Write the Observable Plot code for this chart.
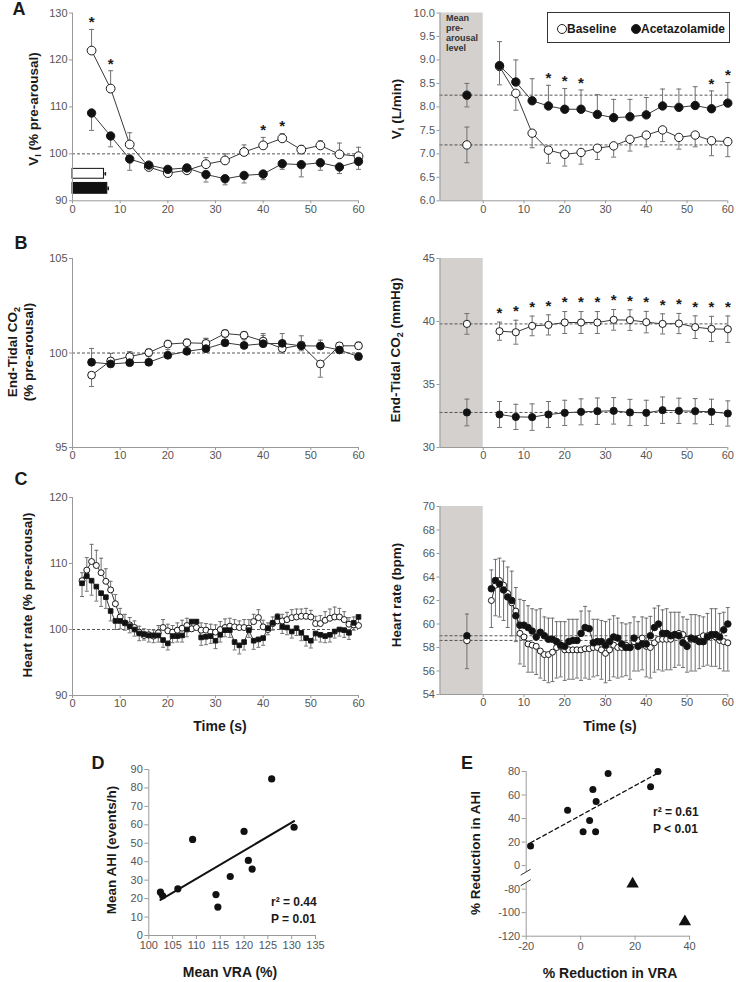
<!DOCTYPE html>
<html>
<head>
<meta charset="utf-8">
<script src="https://cdn.jsdelivr.net/npm/d3@7"></script>
<script src="https://cdn.jsdelivr.net/npm/@observablehq/plot@0.6"></script>
<style>
html,body{margin:0;padding:0;background:#fff;}
#fig{position:relative;width:736px;height:982px;overflow:hidden;background:#fff;font-family:"Liberation Sans",Arial,Helvetica,sans-serif;color:#1a1a1a;}
.lab{position:absolute;white-space:nowrap;font-weight:bold;transform:translate(-50%,-50%);line-height:1.15;}
.rot{transform:translate(-50%,-50%) rotate(-90deg);text-align:center;}
.ttl{font-size:13.5px;}
.ttlh{font-size:14px;}
.letter{font-size:18px;}
.stat{position:absolute;font-weight:bold;font-size:12px;white-space:nowrap;line-height:17px;}
sub{font-size:9px;vertical-align:-3px;line-height:0;}
.lc{display:inline-block;width:10px;height:10px;border:1px solid #222;border-radius:50%;box-sizing:border-box;vertical-align:-1px;background:#fff;}
.lc.f{background:#111;}
</style>
</head>
<body>
<div id="fig"></div>
<script>
// ---------------- DATA ----------------
const timeA = [4,8,12,16,20,24,28,32,36,40,44,48,52,56,60];
// Panel A left: VI (% pre-arousal)
const viPctBase    = [122.0,113.9,102.0,97.2,95.9,96.5,97.8,98.6,100.4,101.8,103.3,100.9,101.8,99.9,99.5];
const viPctBaseErr = [4.5,3.8,2.5,0.8,0.8,0.9,1.4,1.4,1.5,1.7,1.0,0.9,1.0,2.4,1.9];
const viPctAcet    = [108.7,103.8,98.9,97.6,96.7,97.0,95.6,94.7,95.4,95.7,97.9,97.7,98.1,97.2,98.4];
const viPctAcetErr = [-3.7,-2.3,-2.4,-0.9,-0.9,-1.0,-1.6,-1.3,-1.6,-1.2,-1.2,-2.6,-1.6,-1.4,-1.7];
const viPctStarTimes = [4,8,40,44];
const arousalGroups = ["Baseline","Acetazolamide"];
const arousalDur    = [6.6,7.3];
const arousalDurErr = [0.3,0.2];
// Panel A right: VI (L/min)
const viBase    = [8.86,8.29,7.44,7.08,6.99,7.03,7.12,7.17,7.31,7.40,7.51,7.35,7.40,7.28,7.26];
const viBaseErr = [-0.39,-0.36,-0.31,-0.28,-0.25,-0.25,-0.24,-0.24,-0.25,-0.25,-0.25,-0.25,-0.25,-0.32,-0.32];
const viAcet    = [8.88,8.53,8.13,8.02,7.95,7.95,7.84,7.77,7.79,7.83,8.02,7.99,8.03,7.96,8.08];
const viAcetErr = [0.51,0.47,0.47,0.44,0.44,0.41,0.42,0.39,0.37,0.37,0.36,0.39,0.40,0.38,0.44];
const viPreBase = 7.19, viPreBaseErr = 0.38;
const viPreAcet = 8.25, viPreAcetErr = 0.25;
const viStarTimes = [16,20,24,56,60];
// Panel B left: End-tidal CO2 (% pre-arousal)
const petPctBase    = [98.83,99.58,99.81,100.02,100.47,100.54,100.51,101.03,100.94,100.63,100.24,100.42,99.42,100.38,100.38];
const petPctBaseErr = [-0.6,-0.2,0.25,0.2,0.2,0.2,0.25,0.2,0.2,0.3,-0.25,-0.3,-0.7,0.15,0.2];
const petPctAcet    = [99.51,99.42,99.49,99.51,99.88,100.09,100.23,100.54,100.40,100.49,100.51,100.38,100.37,100.16,99.81];
const petPctAcetErr = [0.73,0.56,0.58,0.3,0.3,0.3,0.55,0.3,0.3,0.54,0.52,0.53,0.31,0.2,0.2];
// Panel B right: End-tidal CO2 (mmHg)
const petBase    = [39.23,39.15,39.65,39.73,39.92,39.92,39.92,40.13,40.11,39.95,39.81,39.84,39.55,39.41,39.39];
const petBaseErr = [0.72,0.95,0.78,0.8,0.87,0.87,0.87,0.82,0.82,0.85,0.8,0.8,0.9,1.0,1.05];
const petAcet    = [32.62,32.43,32.41,32.62,32.75,32.83,32.88,32.91,32.78,32.75,32.96,32.91,32.88,32.83,32.70];
const petAcetErr = [1.03,1.0,1.05,1.03,1.0,1.03,1.05,1.05,1.04,1.0,1.05,1.0,1.0,1.0,1.0];
const petPreBase = 39.81, petPreBaseErr = 0.82;
const petPreAcet = 32.78, petPreAcetErr = 1.06;
const petStarTimes = [4,8,12,16,20,24,28,32,36,40,44,48,52,56,60];
// Panel C: heart rate, 1-s samples
const timeC = [2,3,4,5,6,7,8,9,10,11,12,13,14,15,16,17,18,19,20,21,22,23,24,25,26,27,28,29,30,31,32,33,34,35,36,37,38,39,40,41,42,43,44,45,46,47,48,49,50,51,52,53,54,55,56,57,58,59,60];
const hrPctBase = [107.4,109.0,110.3,109.7,108.6,107.3,106.0,103.9,101.9,101.0,
  100.7,100.3,99.6,99.1,99.2,99.0,99.5,100.3,99.8,99.6,
  99.9,100.2,100.6,100.1,100.3,99.9,99.9,99.6,99.6,100.0,
  100.3,100.5,100.4,100.3,100.3,100.2,101.2,101.8,100.4,100.0,
  100.9,101.3,101.3,101.5,101.8,101.9,102.0,102.0,101.9,100.9,
  100.9,101.4,101.7,101.9,101.9,101.5,100.8,100.7,100.6];
const hrPctBaseErr = [1.2,1.9,2.6,2.3,2.2,1.9,1.3,1.4,1.3,1.3,
  1.1,1.0,0.9,1.0,0.8,0.9,1.1,1.2,1.0,1.0,
  1.1,1.2,1.1,1.0,1.2,1.1,1.0,1.2,1.1,1.2,
  1.3,1.2,1.1,1.0,1.2,1.3,1.1,1.2,1.0,1.0,
  1.0,1.1,1.0,1.1,1.2,1.2,1.1,1.2,1.0,1.1,
  1.2,1.3,1.4,1.5,1.3,1.2,1.0,1.2,1.1];
const hrPctAcet = [107.0,108.1,107.4,106.5,105.5,104.9,102.8,101.3,101.3,101.0,
  100.5,100.0,99.4,99.3,99.1,99.1,99.1,98.4,97.9,99.0,
  99.0,99.1,100.0,101.2,101.2,98.8,98.9,99.0,98.3,99.2,
  99.9,99.9,98.1,97.6,98.1,99.9,98.3,98.5,98.7,100.2,
  101.0,101.9,100.4,100.3,99.7,100.2,99.5,98.7,98.3,99.4,
  99.2,99.0,99.2,99.7,100.0,99.9,99.5,101.0,101.9];
const hrPctAcetErr = [-2.0,-2.3,-2.2,-2.2,-2.0,-1.7,-1.5,-1.3,-1.2,-1.1,
  -1.0,-1.0,-1.1,-0.9,-1.0,-1.1,-1.0,-1.1,-1.0,-1.0,
  -0.9,-1.0,-1.1,-1.0,-1.1,-1.2,-1.2,-1.1,-1.2,-1.1,
  -1.0,-1.1,-1.2,-1.3,-1.2,-1.1,-1.3,-1.2,-1.1,-1.0,
  -1.1,-1.0,-1.0,-1.1,-1.0,-1.1,-1.2,-1.2,-1.1,-1.0,
  -1.1,-1.0,-1.1,-1.0,-1.0,-1.1,-1.0,-1.1,-1.0];
const hrBase = [62.0,63.3,63.7,63.3,62.6,61.8,61.1,59.2,58.9,58.3,
  58.2,58.1,57.7,57.4,57.4,57.6,58.0,58.1,57.8,57.8,
  57.8,57.8,57.8,57.9,57.9,58.0,58.0,57.8,57.5,57.8,
  58.2,58.0,58.0,58.2,58.0,58.5,58.6,58.8,58.1,58.0,
  58.4,58.7,58.7,58.7,58.7,59.1,59.2,59.1,58.7,58.7,
  58.7,58.8,59.0,59.0,59.0,58.9,58.6,58.5,58.4];
const hrBaseErr = [-2.3,-2.6,-3.1,-3.0,-2.9,-2.8,-2.6,-2.6,-2.5,-2.4,
  -2.3,-2.4,-2.3,-2.2,-2.4,-2.5,-2.6,-2.6,-2.6,-2.5,
  -2.5,-2.4,-2.6,-2.5,-2.6,-2.5,-2.4,-2.5,-2.5,-2.6,
  -2.7,-2.6,-2.5,-2.6,-2.7,-2.5,-2.6,-2.7,-2.6,-2.6,
  -2.5,-2.6,-2.7,-2.6,-2.6,-2.8,-2.7,-2.8,-2.8,-2.7,
  -2.7,-2.6,-2.6,-2.5,-2.6,-2.5,-2.4,-2.5,-2.4];
const hrAcet = [63.0,63.7,63.4,62.9,62.3,62.0,60.7,59.9,59.9,59.7,
  59.4,58.9,59.3,59.0,58.7,58.7,58.5,58.2,58.1,58.5,
  58.6,58.6,59.2,59.7,59.6,58.4,58.5,58.5,58.2,58.5,
  58.9,58.8,58.3,58.0,58.0,58.8,58.1,58.3,58.3,59.0,
  59.7,60.0,59.2,59.2,59.0,59.1,59.0,58.4,58.1,58.8,
  58.7,58.5,58.5,58.9,59.1,59.1,58.9,59.5,60.0];
const hrAcetErr = [1.6,1.8,2.2,2.45,2.55,2.5,2.4,2.2,2.1,1.85,
  1.9,2.3,2.0,1.6,1.8,1.8,1.7,2.0,2.1,1.9,
  1.8,1.8,1.9,1.8,1.5,2.0,1.9,1.8,2.0,1.9,
  1.8,1.7,1.8,2.0,2.1,1.8,2.1,2.3,2.2,1.65,
  1.65,1.55,2.0,2.1,2.0,1.9,2.0,2.2,2.3,2.0,
  2.1,2.2,2.1,2.0,2.2,2.2,2.0,1.5,1.4];
const hrPreBase = 58.6, hrPreBaseErr = -2.4;
const hrPreAcet = 59.0, hrPreAcetErr = 1.85;
const preTime = -4;
// Panel D
const vraMean = [102.45,102.9,106.1,109.2,114.1,114.5,117.1,120.0,120.9,121.7,125.8,130.5];
const ahiMean = [23.5,21.5,25.3,52.1,22.2,15.4,32.0,56.4,40.7,36.0,84.9,58.7];
// Panel E
const vraRed = [-18.4,-4.8,0.9,3.3,4.5,5.7,5.5,10.1,25.7,28.4];
const ahiRed = [16.7,47.1,28.7,38.3,64.7,54.5,28.7,78.3,67.0,80.0];
const vraRedOut = [19.1,38.3];
const ahiRedOut = [-75.6,-107.7];

// ---------------- HELPERS ----------------
const fig = document.getElementById("fig");
const AX = "#9a9a9a", TXT = "#555", ERR = "#707070", LINE = "#3a3a3a";
const FONT = "'Liberation Sans', Arial, Helvetica, sans-serif";
const capH = {draw(ctx, size){ const w = Math.sqrt(size/Math.PI); ctx.moveTo(-w,0); ctx.lineTo(w,0); }};
const capV = {draw(ctx, size){ const w = Math.sqrt(size/Math.PI); ctx.moveTo(0,-w); ctx.lineTo(0,w); }};

function addPlot(left, top, opts) {
  const svg = Plot.plot({...opts, style: {background:"transparent", overflow:"visible", fontFamily: FONT, fontSize:"11px"}});
  svg.style.position = "absolute"; svg.style.left = left+"px"; svg.style.top = top+"px";
  fig.appendChild(svg);
}
function label(html, cx, cy, cls) {
  const d = document.createElement("div");
  d.className = "lab " + cls;
  d.style.left = cx+"px"; d.style.top = cy+"px";
  d.innerHTML = html;
  fig.appendChild(d);
}
function stat(html, left, top) {
  const d = document.createElement("div");
  d.className = "stat"; d.style.left = left+"px"; d.style.top = top+"px";
  d.innerHTML = html; fig.appendChild(d);
}
function frame(xmin, ymin, xTicks, yTicks, yFmt, tick=3, pad=2, xpad=1) {
  return [
    Plot.axisX({ticks: xTicks, tickSize: tick, tickPadding: xpad, stroke: AX, fill: TXT, fontSize: 11, label: null, tickFormat: d => String(d)}),
    Plot.axisY({ticks: yTicks, tickSize: tick, tickPadding: pad, stroke: AX, fill: TXT, fontSize: 11, label: null, tickFormat: yFmt || (d => String(d))}),
    Plot.ruleY([ymin], {stroke: AX}),
    Plot.ruleX([xmin], {stroke: AX})
  ];
}
function rows(xs, ys, es) { return xs.map((x,i) => ({x, y: ys[i], e: es ? es[i] : 0})); }
function errs(data, both=false, r=2.5) {
  const out = [
    Plot.ruleX(data, {x:"x", y1: d => both ? d.y - d.e : d.y, y2: d => d.y + d.e, stroke: ERR, strokeWidth: 1}),
    Plot.dot(data, {x:"x", y: d => d.y + d.e, symbol: capH, r, stroke: ERR, fill: "none", strokeWidth: 1})
  ];
  if (both) out.push(Plot.dot(data, {x:"x", y: d => d.y - d.e, symbol: capH, r, stroke: ERR, fill:"none", strokeWidth: 1}));
  return out;
}
function line(data) { return Plot.line(data, {x:"x", y:"y", stroke: LINE, strokeWidth: 1}); }
function dots(data, filled, r=4.3, symbol="circle") {
  return Plot.dot(data, {x:"x", y:"y", r, symbol, fill: filled ? "#111" : "#fff", stroke: "#1a1a1a", strokeWidth: 1});
}
function stars(times, data, dy) {
  const sel = data.filter(d => times.includes(d.x));
  return Plot.text(sel, {x:"x", y: d => d.y + Math.max(d.e, 0), text: () => "*", dy, fontSize: 15, fontWeight: "bold", fill: "#1a1a1a"});
}
const dashed = v => Plot.ruleY([v], {stroke: "#444", strokeDasharray: "3,2", strokeWidth: 0.9});
const XMIN = -10.6;
const grayBand = Plot.rect([0], {x1: () => XMIN, x2: () => 0, fill: "#d3d0ce"});
const ticks60 = [0,10,20,30,40,50,60];

// ---------------- PANEL A LEFT ----------------
{
  const b = rows(timeA, viPctBase, viPctBaseErr), a = rows(timeA, viPctAcet, viPctAcetErr);
  const bars = arousalGroups.map((g,i) => ({g, dur: arousalDur[i], e: arousalDurErr[i]}));
  const barY = {Baseline: [94.7, 96.8], Acetazolamide: [91.5, 93.8]};
  addPlot(0, 0, {
    width: 370, height: 220, marginLeft: 72, marginRight: 12, marginTop: 12.5, marginBottom: 19.7,
    x: {domain: [0,60]}, y: {domain: [90,130]},
    marks: [
      dashed(100),
      Plot.ruleY(bars, {x1: d => d.dur, x2: d => d.dur + d.e, y: d => (barY[d.g][0]+barY[d.g][1])/2, stroke: "#222"}),
      Plot.dot(bars, {x: d => d.dur + d.e, y: d => (barY[d.g][0]+barY[d.g][1])/2, symbol: capV, r: 1.8, stroke: "#222", fill: "none"}),
      Plot.rect(bars, {x1: () => 0, x2: "dur", y1: d => barY[d.g][0], y2: d => barY[d.g][1], fill: d => d.g === "Baseline" ? "#fff" : "#111", stroke: "#111", strokeWidth: 1}),
      ...errs(b), ...errs(a),
      line(b), line(a), dots(b, false, 4.4), dots(a, true, 4.2),
      stars(viPctStarTimes, b, -7),
      ...frame(0, 90, ticks60, [90,100,110,120,130])
    ]
  });
}
// ---------------- PANEL A RIGHT ----------------
{
  const b = rows(timeA, viBase, viBaseErr), a = rows(timeA, viAcet, viAcetErr);
  const pre = [{x: preTime, y: viPreBase, e: viPreBaseErr, f: false}, {x: preTime, y: viPreAcet, e: viPreAcetErr, f: true}];
  addPlot(370, 0, {
    width: 366, height: 220, marginLeft: 69.5, marginRight: 8.7, marginTop: 12.5, marginBottom: 19.7,
    x: {domain: [XMIN,60]}, y: {domain: [6,10]},
    marks: [
      grayBand,
      dashed(viPreBase), dashed(viPreAcet),
      ...errs(pre, true),
      ...errs(b), ...errs(a),
      line(b), line(a), dots(b, false, 4.2), dots(a, true, 4.2),
      dots(pre.filter(d => !d.f), false, 4.2), dots(pre.filter(d => d.f), true, 4.2),
      stars(viStarTimes, a, -7),
      ...frame(XMIN, 6, ticks60, [6,6.5,7,7.5,8,8.5,9,9.5,10], d3.format(".1f"))
    ]
  });
}
// ---------------- PANEL B LEFT ----------------
{
  const b = rows(timeA, petPctBase, petPctBaseErr), a = rows(timeA, petPctAcet, petPctAcetErr);
  addPlot(0, 240, {
    width: 370, height: 225, marginLeft: 72, marginRight: 12, marginTop: 18, marginBottom: 18,
    x: {domain: [0,60]}, y: {domain: [95,105]},
    marks: [
      dashed(100),
      ...errs(b), ...errs(a),
      line(b), line(a), dots(b, false, 3.9), dots(a, true, 3.9),
      ...frame(0, 95, ticks60, [95,100,105])
    ]
  });
}
// ---------------- PANEL B RIGHT ----------------
{
  const b = rows(timeA, petBase, petBaseErr), a = rows(timeA, petAcet, petAcetErr);
  const pre = [{x: preTime, y: petPreBase, e: petPreBaseErr}, {x: preTime, y: petPreAcet, e: petPreAcetErr}];
  addPlot(370, 240, {
    width: 366, height: 225, marginLeft: 69.5, marginRight: 8.7, marginTop: 18, marginBottom: 18,
    x: {domain: [XMIN,60]}, y: {domain: [30,45]},
    marks: [
      grayBand,
      dashed(petPreBase), dashed(petPreAcet),
      ...errs(pre, true), ...errs(b, true), ...errs(a, true),
      line(b), line(a), dots(b, false, 3.6), dots(a, true, 3.6),
      dots([pre[0]], false, 3.6), dots([pre[1]], true, 3.6),
      stars(petStarTimes, b, -9),
      ...frame(XMIN, 30, ticks60, [30,35,40,45])
    ]
  });
}
// ---------------- PANEL C LEFT ----------------
{
  const b = rows(timeC, hrPctBase, hrPctBaseErr), a = rows(timeC, hrPctAcet, hrPctAcetErr);
  addPlot(0, 480, {
    width: 370, height: 255, marginLeft: 72, marginRight: 12, marginTop: 17, marginBottom: 40,
    x: {domain: [0,60]}, y: {domain: [90,120]},
    marks: [
      dashed(100),
      ...errs(b, false, 2), ...errs(a, false, 2),
      line(b), line(a), dots(b, false, 3), dots(a, true, 2.6, "square"),
      ...frame(0, 90, ticks60, [90,100,110,120])
    ]
  });
}
// ---------------- PANEL C RIGHT ----------------
{
  const b = rows(timeC, hrBase, hrBaseErr), a = rows(timeC, hrAcet, hrAcetErr);
  const pre = [{x: preTime, y: hrPreBase, e: hrPreBaseErr}, {x: preTime, y: hrPreAcet, e: hrPreAcetErr}];
  addPlot(370, 480, {
    width: 366, height: 255, marginLeft: 69.5, marginRight: 8.7, marginTop: 26, marginBottom: 41,
    x: {domain: [XMIN,60]}, y: {domain: [54,70]},
    marks: [
      grayBand,
      dashed(hrPreAcet), dashed(hrPreBase),
      ...errs(pre, false, 2), ...errs(b, false, 2), ...errs(a, false, 2),
      line(b), line(a), dots(b, false, 3), dots(a, true, 3.3),
      dots([pre[0]], false, 3.3), dots([pre[1]], true, 3.3),
      ...frame(XMIN, 54, ticks60, [54,56,58,60,62,64,66,68,70])
    ]
  });
}
// ---------------- PANEL D ----------------
{
  const pts = vraMean.map((x,i) => ({x, y: ahiMean[i]}));
  addPlot(0, 750, {
    width: 370, height: 232, marginLeft: 148.3, marginRight: 55, marginTop: 19, marginBottom: 47,
    x: {domain: [100,135]}, y: {domain: [0,90]},
    marks: [
      Plot.linearRegressionY(pts, {x:"x", y:"y", ci: 0, stroke: "#111", strokeWidth: 2}),
      Plot.dot(pts, {x:"x", y:"y", r: 3.6, fill: "#111"}),
      ...frame(100, 0, [100,105,110,115,120,125,130,135], [0,10,20,30,40,50,60,70,80,90], null, 4, 2, 2)
    ]
  });
}
// ---------------- PANEL E ----------------
{
  const gapShift = 60; // broken axis: values <= -80 are shifted up by 60
  const tr = v => v < 0 ? v + gapShift : v;
  const pts = vraRed.map((x,i) => ({x, y: ahiRed[i]}));
  const out = vraRedOut.map((x,i) => ({x, y: tr(ahiRedOut[i])}));
  addPlot(370, 750, {
    width: 366, height: 232, marginLeft: 155.7, marginRight: 47, marginTop: 21, marginBottom: 46.3,
    x: {domain: [-20,40]}, y: {domain: [-60,80]},
    marks: [
      Plot.linearRegressionY(pts, {x:"x", y:"y", ci: 0, stroke: "#111", strokeWidth: 1.3, strokeDasharray: "4,3"}),
      Plot.dot(pts, {x:"x", y:"y", r: 3.5, fill: "#111"}),
      Plot.dot(out, {x:"x", y:"y", r: 4.6, symbol: "triangle", fill: "#111"}),
      Plot.axisX({ticks: [-20,0,20,40], tickSize: 4, tickPadding: 2, stroke: AX, fill: TXT, fontSize: 11, label: null, tickFormat: d => String(d)}),
      Plot.axisY({ticks: [-60,-40,-20,0,20,40,60,80], tickSize: 4, tickPadding: 2, stroke: AX, fill: TXT, fontSize: 11, label: null, tickFormat: d => String(d < 0 ? d - gapShift : d)}),
      Plot.ruleY([-60], {stroke: AX}),
      Plot.ruleX([-20], {y1: () => 80, y2: () => -6, stroke: AX}),
      Plot.ruleX([-20], {y1: () => -15, y2: () => -60, stroke: AX}),
      (index, scales) => {
        const g = d3.create("svg:g").attr("stroke", "#333").attr("fill", "none").attr("stroke-width", 1);
        const x0 = scales.x(-20);
        [-6, -15].forEach(v => {
          const yy = scales.y(v);
          g.append("line").attr("x1", x0 - 5).attr("y1", yy + 3).attr("x2", x0 + 5).attr("y2", yy - 3);
        });
        return g.node();
      }
    ]
  });
}

// ---------------- TEXT ----------------
label("A", 19, 9, "letter");
label("B", 21, 243, "letter");
label("C", 21, 479, "letter");
label("D", 98, 763, "letter");
label("E", 467, 763, "letter");

label("V<sub>I</sub> (% pre-arousal)", 34, 109, "rot ttl");
label("V<sub>I</sub> (L/min)", 397, 109, "rot ttl");
label("End-Tidal CO<sub>2</sub><br>(% pre-arousal)", 21, 352, "rot ttl");
label("End-Tidal CO<sub>2</sub> (mmHg)", 396, 350, "rot ttl");
label("Heart rate (% pre-arousal)", 28, 595, "rot ttl");
label("Heart rate (bpm)", 397, 595, "rot ttl");
label("Mean AHI (events/h)", 112, 850, "rot ttl");
label("% Reduction in AHI", 476, 853, "rot ttl");

label("Time (s)", 220, 726, "ttlh");
label("Time (s)", 610, 726, "ttlh");
label("Mean VRA (%)", 230, 972, "ttlh");
label("% Reduction in VRA", 610, 973, "ttlh");

stat("r² = 0.44<br>P = 0.01", 271, 894);
stat("r² = 0.61<br>P &lt; 0.01", 653, 804);

// gray band note
{
  const d = document.createElement("div");
  d.style.cssText = "position:absolute;left:446px;top:13px;font-size:9px;font-weight:bold;line-height:10px;color:#333;";
  d.innerHTML = "Mean<br>pre-<br>arousal<br>level";
  fig.appendChild(d);
}
// legend
{
  const d = document.createElement("div");
  d.style.cssText = "position:absolute;left:547px;top:12px;width:183px;height:31px;border:1px solid #333;box-sizing:border-box;font-size:12px;font-weight:bold;";
  d.innerHTML = '<span style="position:absolute;left:9px;top:9px;white-space:nowrap"><span class="lc"></span>Baseline</span>' +
                '<span style="position:absolute;left:83px;top:9px;white-space:nowrap"><span class="lc f"></span>Acetazolamide</span>';
  fig.appendChild(d);
}
</script>
</body>
</html>
